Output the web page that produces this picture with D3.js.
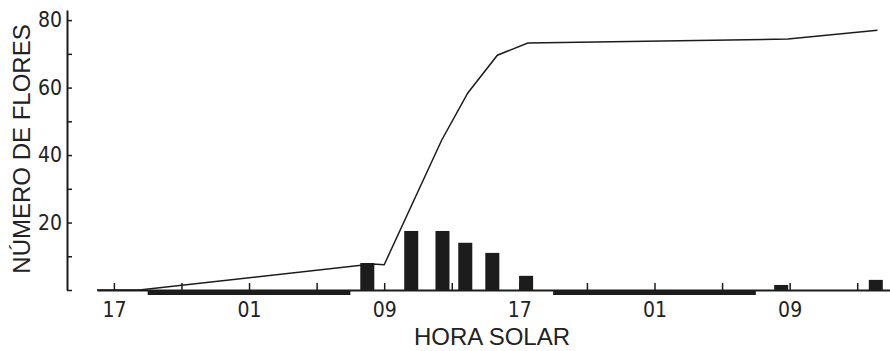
<!DOCTYPE html>
<html>
<head>
<meta charset="utf-8">
<title>Flores por hora solar</title>
<style>
  body {margin:0; background:#fff;}
  .tick text {font-family:"DejaVu Sans Condensed","DejaVu Sans",sans-serif; font-size:21px; fill:#222;}
  .lbl {font-family:"Liberation Sans",Arial,sans-serif; font-size:24px; fill:#222;}
</style>
<script src="https://d3js.org/d3.v7.min.js"></script>
</head>
<body>
<svg id="chart" width="890" height="351"></svg>
<script>
// hours counted from midnight of the first day (17 = 17:00 day 1, 41 = 17:00 day 2)
var barHours  = [32.0, 34.6, 36.45, 37.8, 39.4, 41.4, 56.5, 62.1];
var barValues = [8, 17.5, 17.5, 14, 11, 4.2, 1.5, 3];

// cumulative number of flowers
var lineHours  = [16, 18.5, 32.3, 33.0, 36.4, 37.95, 39.7, 41.5, 56.9, 62.2];
var lineValues = [0, 0, 7.7, 7.5, 44.4, 58.4, 69.6, 73.2, 74.4, 77];

// night periods (19:00 - 07:00)
var nightStart = [19, 43];
var nightEnd   = [31, 55];

var xTicks = [17, 21, 25, 29, 33, 37, 41, 45, 49, 53, 57, 61];
var xLabels = {17: "17", 25: "01", 33: "09", 41: "17", 49: "01", 57: "09"};
var yTicks = [0, 10, 20, 30, 40, 50, 60, 70, 80];
var yLabels = [20, 40, 60, 80];

var svg = d3.select("#chart");
var ink = "#1c1c1c";

var x = d3.scaleLinear().domain([16, 63]).range([97, 891]);
var y = d3.scaleLinear().domain([0, 83]).range([290, 10]);

// night bars under the axis
svg.selectAll("rect.night")
    .data(nightStart)
    .enter().append("rect")
    .attr("class", "night")
    .attr("x", function(d) { return x(d); })
    .attr("width", function(d, i) { return x(nightEnd[i]) - x(d); })
    .attr("y", y(0))
    .attr("height", 5)
    .attr("fill", ink);

// x axis
var xAxis = d3.axisBottom(x)
    .tickValues(xTicks)
    .tickSizeInner(-7)
    .tickSizeOuter(0)
    .tickPadding(12)
    .tickFormat(function(d) { return xLabels[d] || ""; });

var gx = svg.append("g")
    .attr("transform", "translate(0," + y(0) + ")")
    .call(xAxis);
gx.select(".domain").attr("stroke", ink).attr("stroke-width", 2);
gx.selectAll(".tick line").attr("stroke", ink).attr("stroke-width", 1.5);

// y axis
var yAxis = d3.axisLeft(y)
    .tickValues(yTicks)
    .tickSizeInner(-5)
    .tickSizeOuter(0)
    .tickPadding(5)
    .tickFormat(function(d) { return yLabels.indexOf(d) >= 0 ? d : ""; });

var gy = svg.append("g")
    .attr("transform", "translate(67,0)")
    .call(yAxis);
gy.select(".domain").attr("stroke", ink).attr("stroke-width", 2);
gy.selectAll(".tick line").attr("stroke", ink).attr("stroke-width", 1.5);

// bars
var barW = x(16.83) - x(16);
svg.selectAll("rect.bar")
    .data(barValues)
    .enter().append("rect")
    .attr("class", "bar")
    .attr("x", function(d, i) { return x(barHours[i]) - barW / 2; })
    .attr("width", barW)
    .attr("y", function(d) { return y(d); })
    .attr("height", function(d) { return y(0) - y(d); })
    .attr("fill", ink);

// cumulative line
var line = d3.line()
    .x(function(d, i) { return x(lineHours[i]); })
    .y(function(d) { return y(d); });

svg.append("path")
    .datum(lineValues)
    .attr("d", line)
    .attr("fill", "none")
    .attr("stroke", ink)
    .attr("stroke-width", 1.5);

// labels
svg.append("text")
    .attr("class", "lbl")
    .attr("text-anchor", "middle")
    .attr("transform", "translate(30,149) rotate(-90)")
    .text("NÚMERO DE FLORES");

svg.append("text")
    .attr("class", "lbl")
    .attr("text-anchor", "middle")
    .attr("x", 492)
    .attr("y", 345)
    .text("HORA SOLAR");
</script>
</body>
</html>
